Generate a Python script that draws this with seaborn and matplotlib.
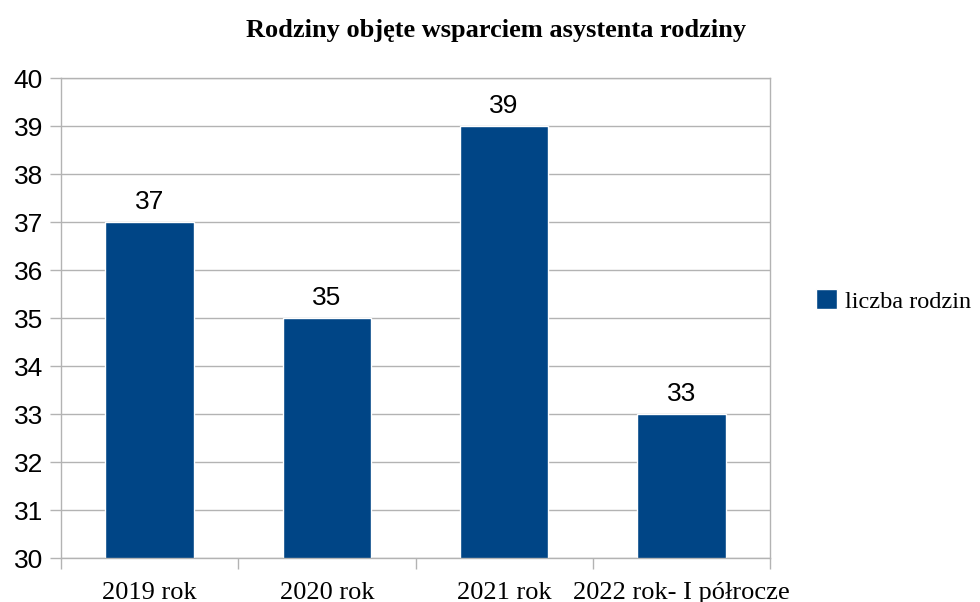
import matplotlib
matplotlib.use("Agg")
import matplotlib.pyplot as plt
import seaborn as sns
import pandas as pd
from matplotlib.ticker import FixedLocator

categories = ["2019 rok", "2020 rok", "2021 rok", "2022 rok- I półrocze"]
values = [37, 35, 39, 33]
series_name = "liczba rodzin"
title = "Rodziny objęte wsparciem asystenta rodziny"
yticks = list(range(30, 41))

sns.set_theme(style="white")
plt.rcParams['font.family'] = ['Liberation Sans', 'DejaVu Sans']
plt.rcParams['text.color'] = 'black'
plt.rcParams['xtick.color'] = 'black'
plt.rcParams['ytick.color'] = 'black'

BLUE = "#004586"
GRID = "#b3b3b3"

fig = plt.figure(figsize=(9.8, 6.02), dpi=100)
ax = fig.add_axes([61/980, 1-558/602, (770-61)/980, (558-78)/602])

df = pd.DataFrame({"cat": categories, "val": values})
sns.barplot(data=df, x="cat", y="val", color=BLUE, width=0.5, ax=ax,
            label=series_name, saturation=1)

ax.set_ylim(30, 40)
ax.set_xlim(-0.5, len(categories) - 0.5)
ax.set_yticks(yticks)
ax.set_yticklabels([str(t) for t in yticks], fontsize=19, family='Liberation Sans')
ax.set_xlabel("")
ax.set_ylabel("")
ax.grid(axis="y", color=GRID, linewidth=1)
ax.set_axisbelow(True)
for s in ax.spines.values():
    s.set_color(GRID)
    s.set_linewidth(1)

ax.set_xticks(range(len(categories)))
ax.set_xticklabels(categories, fontsize=19, family='Liberation Serif')
ax.xaxis.set_minor_locator(FixedLocator([i - 0.5 for i in range(len(categories) + 1)]))
ax.tick_params(axis="x", which="major", length=0, pad=17, labelcolor="black")
ax.tick_params(axis="x", which="minor", length=8, width=1, color=GRID, bottom=True)
ax.tick_params(axis="y", which="major", length=8, width=1, color=GRID, left=True, pad=5, labelcolor="black")

for c in ax.containers:
    ax.bar_label(c, labels=[str(v) for v in values], padding=6, fontsize=19,
                 family='Liberation Sans', color="black")

fig.suptitle(title, x=0.506, y=1-31/602, va="center", fontsize=19,
             fontweight="bold", family='Liberation Serif', color="black")

leg = ax.legend(loc="center left", bbox_to_anchor=(816/980, 1-301/602),
                bbox_transform=fig.transFigure, frameon=False,
                prop={'family': 'Liberation Serif', 'size': 17.5},
                handlelength=0.85, handleheight=0.85, handletextpad=0.35, borderaxespad=0,
                borderpad=0)
for t in leg.get_texts():
    t.set_color("black")

fig.savefig("out.png", dpi=100)
